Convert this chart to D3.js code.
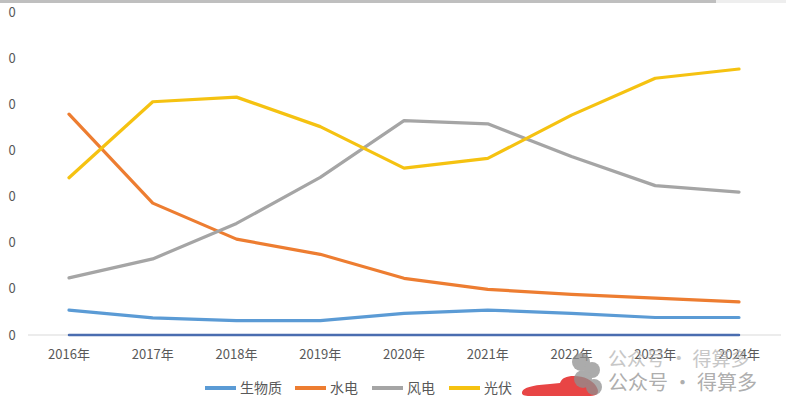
<!DOCTYPE html>
<html><head><meta charset="utf-8">
<script src="https://cdn.jsdelivr.net/npm/d3@7"></script>
<style>body{margin:0;background:#fff;}svg{display:block;font-family:"Noto Sans CJK SC","DejaVu Sans",sans-serif;}</style>
</head><body>
<script>
const years = ["2016年","2017年","2018年","2019年","2020年","2021年","2022年","2023年","2024年"];
const biomass = [5.4,3.7,3.1,3.1,4.7,5.4,4.7,3.8,3.8];
const hydro = [47.9,28.6,20.8,17.5,12.3,9.9,8.8,8.0,7.2];
const wind = [12.4,16.5,24.2,34.2,46.5,45.8,38.7,32.4,31.0];
const solar = [34.1,50.6,51.6,45.2,36.2,38.3,47.7,55.7,57.7];
const other = [0,0,0,0,0,0,0,0,0];
const yTicks = [0,10,20,30,40,50,60,70];
const legendNames = ["生物质","水电","风电","光伏"];

const series = [
  {name:"其他", values:other, color:"#4a6db0", legend:false},
  {name:"生物质", values:biomass, color:"#5B9BD5", legend:true},
  {name:"水电", values:hydro, color:"#ED7D31", legend:true},
  {name:"风电", values:wind, color:"#A5A5A5", legend:true},
  {name:"光伏", values:solar, color:"#F5C211", legend:true}
];

const W=794,H=413;
const svg=d3.select("body").append("svg").attr("width",W).attr("height",H);
svg.append("rect").attr("x",0).attr("y",0).attr("width",W).attr("height",H).attr("fill","#fff");
// screenshot top bar
svg.append("rect").attr("x",0).attr("y",0).attr("width",716).attr("height",3).attr("fill","#bfbfbf");
svg.append("rect").attr("x",716).attr("y",0).attr("width",70).attr("height",3).attr("fill","#eeeeee");

const x=d3.scalePoint().domain(years).range([69,739]);
const y=d3.scaleLinear().domain([0,70]).range([335,12.3]);

// y axis labels (left part cropped in reference)
svg.append("g").selectAll("text").data(yTicks).join("text")
  .attr("x",12).attr("y",d=>y(d)).attr("dy","0.35em").attr("text-anchor","middle")
  .attr("font-size",13).attr("fill","#595959").text(d=>String(d).slice(-1));

// category axis line
svg.append("line").attr("x1",28).attr("x2",781).attr("y1",y(0)).attr("y2",y(0))
  .attr("stroke","#d9d9d9").attr("stroke-width",1);

// x labels
svg.append("g").selectAll("text").data(years).join("text")
  .attr("x",d=>x(d)).attr("y",354).attr("dy","0.35em").attr("text-anchor","middle")
  .attr("font-size",13).attr("fill","#595959").text(d=>d);

const line=d3.line().x((d,i)=>x(years[i])).y(d=>y(d));
svg.append("g").selectAll("path").data(series).join("path")
  .attr("d",s=>line(s.values)).attr("fill","none")
  .attr("stroke",s=>s.color).attr("stroke-width",s=>s.legend?3.2:2.5)
  .attr("stroke-linejoin","round").attr("stroke-linecap","round");

// legend
const legendX=[205,295,372,449];
const lg=svg.append("g").selectAll("g").data(series.filter(s=>s.legend)).join("g")
  .attr("transform",(d,i)=>`translate(${legendX[i]},388)`);
lg.append("line").attr("x1",0).attr("x2",31).attr("y1",0).attr("y2",0)
  .attr("stroke",d=>d.color).attr("stroke-width",4);
lg.append("text").attr("x",35).attr("y",0).attr("dy","0.35em")
  .attr("font-size",14).attr("fill","#595959").text(d=>d.name);

// redaction blob
svg.append("path").attr("d","M522,393 C522,387 535,385 550,384 L560,383 C562,378 566,376 574,376 C584,376 592,380 596,386 C600,392 598,396 590,396 L530,396 C524,396 522,395 522,393 Z")
  .attr("fill","#e84545");
// watermark icon
const wm=svg.append("g").attr("opacity",0.75);
[[581,362,9],[592,370,8],[583,379,9],[594,387,8]].forEach(c=>{
  wm.append("circle").attr("cx",c[0]).attr("cy",c[1]).attr("r",c[2]).attr("fill","#8f8f8f");
});
svg.append("text").attr("x",608).attr("y",366).attr("font-size",19).attr("fill","#b0b0b0").attr("opacity",0.7).text("公众号 · 得算多");
svg.append("text").attr("x",608).attr("y",390).attr("font-size",20).attr("fill","#a0a0a0").attr("opacity",0.85).text("公众号 · 得算多");
</script>
</body></html>
